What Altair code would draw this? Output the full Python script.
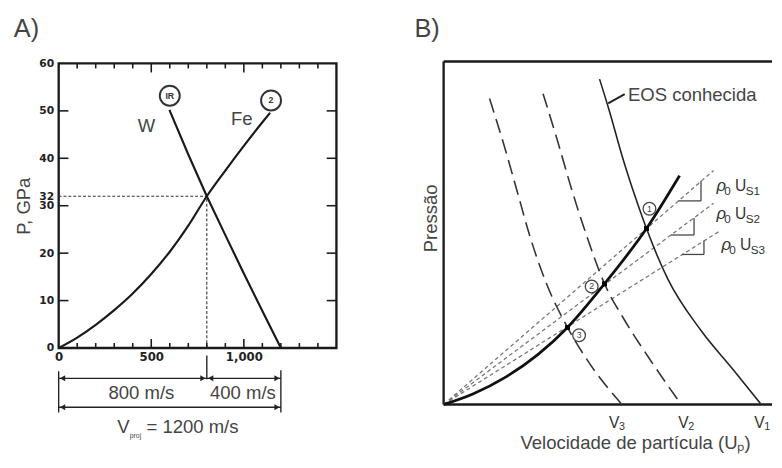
import altair as alt
import pandas as pd

FONT = "Liberation Sans"
INK = "#1a1a1a"
TXT = "#444444"

# ---------------- Panel A data (W projectile on Fe target) ----------------
fe_up = [0, 100, 200, 300, 400, 500, 600, 700, 800, 900, 1000, 1100, 1142]
fe_p = [0, 2.2, 4.9, 8.0, 11.5, 15.6, 20.3, 25.8, 32.0, 37.4, 42.6, 47.6, 49.6]
w_up = [1200, 1100, 1000, 900, 800, 700, 598]
w_p = [0, 7.8, 15.7, 23.8, 32.0, 40.8, 50.2]
a_x_labels = [0, 500, 1000]
a_y_labels = [0, 10, 20, 30, 32, 40, 50, 60]
a_x_minor = [100, 200, 300, 400, 600, 700, 800, 900, 1100, 1200, 1300, 1400]
a_x_major = [500, 1000]
a_y_ticks = [10, 20, 30, 40, 50]
up_match = 800
p_match = 32
v_proj = 1200
a_curve_names = ["W", "Fe"]
a_curve_name_x = [474, 989]
a_curve_name_y = [45.6, 47.1]
a_circle_txt = ["IR", "2"]
a_circle_x = [600, 1147]
a_circle_y = [53.2, 52.2]
a_dim_row1 = -6.4
a_dim_row2 = -12.5
a_dim_txt = ["800 m/s", "400 m/s"]
a_dim_txt_x = [447, 995]
a_dim_txt_y = [-10.7, -10.8]

# ---------------- Panel B data (schematic) ----------------
hug_x = [0, 8.85, 18.9, 28.6, 37.5, 48.7, 61.4, 71.4]
hug_y = [0, 3.1, 8.1, 14.7, 22.6, 35.4, 51.6, 67.1]
eos_x = [47.2, 50.1, 54.3, 58.1, 61.4, 67.8, 77.9, 87.6, 95.9]
eos_y = [95.4, 86.3, 72.0, 60.6, 51.6, 36.9, 21.7, 10.3, 0.3]
v2_x = [30.1, 34.6, 38.9, 43.0, 48.7, 54.6, 61.9, 71.7]
v2_y = [91.1, 76.9, 62.6, 50.3, 35.4, 25.0, 14.0, 0.3]
v3_x = [13.9, 18.6, 22.4, 26.0, 30.9, 37.5, 43.5, 53.7]
v3_y = [89.7, 75.0, 62.0, 49.7, 36.0, 22.6, 13.0, 0.3]
ray_end_x = [81.7, 81.7, 83.8]
ray_end_y = [68.6, 59.0, 51.0]
tri_left_x = [71.0, 68.8, 72.2]
tri_right_x = [77.9, 75.8, 78.8]
tri_base_y = [59.7, 49.7, 44.0]
tri_top_y = [65.5, 54.7, 48.0]
state_x = [61.4, 48.7, 37.5]
state_y = [51.6, 35.4, 22.6]
state_lbl = ["1", "2", "3"]
state_lbl_x = [62.3, 44.8, 41.0]
state_lbl_y = [57.4, 34.6, 20.3]
rho_x = [82.6, 82.6, 84.1]
rho_y = [62.6, 54.3, 45.4]
us_sub = ["S1", "S2", "S3"]
v_lbl_x = [51.6, 72.6, 95.6]
v_lbl_y = [-6.8, -6.8, -6.8]
v_sub = ["3", "2", "1"]
b_top = 100.57
b_right = 99.4


def df(**cols):
    return pd.DataFrame(cols)


# ---------------- Panel A ----------------
XA = alt.X("x:Q", scale=alt.Scale(domain=[0, 1500], nice=False, zero=False),
           axis=alt.Axis(values=a_x_labels, format=",d", ticks=False, tickSize=0,
                         domain=False, grid=False, labelFlush=False,
                         labelFont="DejaVu Sans", labelFontWeight="bold",
                         labelFontSize=12, labelColor="#222", labelPadding=4,
                         title=""))
YA = alt.Y("y:Q", scale=alt.Scale(domain=[0, 60], nice=False, zero=False),
           axis=alt.Axis(values=a_y_labels, format="d", ticks=False, tickSize=0,
                         domain=False, grid=False, labelFlush=False, labelOverlap=False,
                         labelFont="DejaVu Sans", labelFontWeight="bold",
                         labelFontSize=11, labelColor="#222", labelPadding=5,
                         title="P, GPa", titleFont=FONT, titleFontSize=19,
                         titleFontWeight="normal", titleColor=TXT, titlePadding=6))


def a_rule(d, **kw):
    return alt.Chart(d).mark_rule(**kw).encode(x=XA, x2="x2:Q", y=YA, y2="y2:Q")


def a_text(d, **kw):
    return alt.Chart(d).mark_text(font=FONT, **kw).encode(x=XA, y=YA, text="t:N")


fe_line = alt.Chart(df(x=fe_up, y=fe_p, o=list(range(len(fe_up))))).mark_line(
    color=INK, strokeWidth=2.2, interpolate="monotone").encode(x=XA, y=YA, order="o:Q")
w_line = alt.Chart(df(x=w_up, y=w_p, o=list(range(len(w_up))))).mark_line(
    color=INK, strokeWidth=2.2).encode(x=XA, y=YA, order="o:Q")

dashed_a = a_rule(df(x=[0, up_match], x2=[up_match, up_match],
                     y=[p_match, 0], y2=[p_match, p_match]),
                  color="#333", strokeWidth=1.1, strokeDash=[3, 2])

ticks_b = a_rule(df(x=a_x_minor + a_x_major, x2=a_x_minor + a_x_major,
                    y=[0] * (len(a_x_minor) + 2),
                    y2=[1.05] * len(a_x_minor) + [1.9] * 2), color=INK, strokeWidth=1.6)
ticks_t = a_rule(df(x=a_x_minor + a_x_major, x2=a_x_minor + a_x_major,
                    y=[60] * (len(a_x_minor) + 2),
                    y2=[58.95] * len(a_x_minor) + [58.1] * 2), color=INK, strokeWidth=1.6)
ticks_l = a_rule(df(x=[0] * 5, x2=[52.6] * 5, y=a_y_ticks, y2=a_y_ticks),
                 color=INK, strokeWidth=1.6)
ticks_r = a_rule(df(x=[1447.4] * 5, x2=[1500] * 5, y=a_y_ticks, y2=a_y_ticks),
                 color=INK, strokeWidth=1.6)

dims = a_rule(df(x=[up_match, 0, v_proj, 0, up_match, 0],
                 x2=[up_match, 0, v_proj, up_match, v_proj, v_proj],
                 y=[-1.6, -4.9, -4.7, a_dim_row1, a_dim_row1, a_dim_row2],
                 y2=[-6.6, -13.6, -13.6, a_dim_row1, a_dim_row1, a_dim_row2]),
              color="#222", strokeWidth=1.4)
heads_l = alt.Chart(df(x=[0, up_match, 0], y=[a_dim_row1, a_dim_row1, a_dim_row2])).mark_point(
    shape="triangle-left", filled=True, size=38, color="#222", opacity=1, xOffset=4
).encode(x=XA, y=YA)
heads_r = alt.Chart(df(x=[up_match, v_proj, v_proj], y=[a_dim_row1, a_dim_row1, a_dim_row2])).mark_point(
    shape="triangle-right", filled=True, size=38, color="#222", opacity=1, xOffset=-4
).encode(x=XA, y=YA)

curve_names = a_text(df(x=a_curve_name_x, y=a_curve_name_y, t=a_curve_names),
                     fontSize=19, color=TXT, align="center", baseline="alphabetic")
circ_a = alt.Chart(df(x=a_circle_x, y=a_circle_y)).mark_point(
    shape="circle", size=420, filled=False, color="#333", strokeWidth=2, opacity=1
).encode(x=XA, y=YA)
circ_a_txt = a_text(df(x=a_circle_x, y=a_circle_y, t=a_circle_txt),
                    fontSize=9, fontWeight="bold", color="#333", align="center",
                    baseline="middle")
dim_txt = a_text(df(x=a_dim_txt_x, y=a_dim_txt_y, t=a_dim_txt),
                 fontSize=19, color=TXT, align="center", baseline="alphabetic")
vproj_v = a_text(df(x=[316], y=[-17.9], t=["V"]), fontSize=19, color=TXT,
                 align="left", baseline="alphabetic")
vproj_sub = a_text(df(x=[384], y=[-18.9], t=["proj"]), fontSize=7, color=TXT,
                   align="left", baseline="alphabetic")
vproj_rest = a_text(df(x=[474], y=[-17.9], t=["= 1200 m/s"]), fontSize=19, color=TXT,
                    align="left", baseline="alphabetic")
label_a = a_text(df(x=[-242], y=[65.5], t=["A)"]), fontSize=26, color=TXT,
                 align="left", baseline="alphabetic")

panel_a = alt.layer(
    dashed_a, ticks_b, ticks_t, ticks_l, ticks_r, fe_line, w_line, dims, heads_l, heads_r,
    curve_names, circ_a, circ_a_txt, dim_txt, vproj_v, vproj_sub, vproj_rest, label_a
).properties(width=285, height=292,
             view=alt.ViewBackground(stroke=INK, strokeWidth=2.4))

# ---------------- Panel B ----------------
XB = alt.X("x:Q", scale=alt.Scale(domain=[0, 100], nice=False, zero=False), axis=None)
YB = alt.Y("y:Q", scale=alt.Scale(domain=[0, 100], nice=False, zero=False), axis=None)


def b_line(xs, ys, **kw):
    return alt.Chart(df(x=xs, y=ys, o=list(range(len(xs))))).mark_line(
        interpolate="monotone", **kw).encode(x=XB, y=YB, order="o:Q")


def b_rule(d, **kw):
    return alt.Chart(d).mark_rule(**kw).encode(x=XB, x2="x2:Q", y=YB, y2="y2:Q")


def b_text(d, **kw):
    return alt.Chart(d).mark_text(font=FONT, **kw).encode(x=XB, y=YB, text="t:N")


frame_b = b_rule(df(x=[0, 0, 0], x2=[0, b_right, b_right], y=[0, b_top, 0],
                    y2=[b_top, b_top, 0]), color=INK, strokeWidth=2.4)
rays = b_rule(df(x=[0, 0, 0], x2=ray_end_x, y=[0, 0, 0], y2=ray_end_y),
              color="#777", strokeWidth=1.3, strokeDash=[4, 3])
tri_h = b_rule(df(x=tri_left_x, x2=tri_right_x, y=tri_base_y, y2=tri_base_y),
               color="#444", strokeWidth=1.3)
tri_v = b_rule(df(x=tri_right_x, x2=tri_right_x, y=tri_base_y, y2=tri_top_y),
               color="#444", strokeWidth=1.3)
eos = b_line(eos_x, eos_y, color="#222", strokeWidth=1.6)
v2c = b_line(v2_x, v2_y, color="#333", strokeWidth=1.6, strokeDash=[15, 7])
v3c = b_line(v3_x, v3_y, color="#333", strokeWidth=1.6, strokeDash=[15, 7])
hug = b_line(hug_x, hug_y, color="#111", strokeWidth=2.8)
dots = alt.Chart(df(x=state_x, y=state_y)).mark_point(
    shape="square", filled=True, size=26, color="#000", opacity=1).encode(x=XB, y=YB)
circ_b = alt.Chart(df(x=state_lbl_x, y=state_lbl_y)).mark_point(
    shape="circle", size=170, filled=False, color="#444", strokeWidth=1.3, opacity=1
).encode(x=XB, y=YB)
circ_b_txt = b_text(df(x=state_lbl_x, y=state_lbl_y, t=state_lbl), fontSize=9,
                    color="#444", align="center", baseline="middle")
eos_lbl = b_text(df(x=[55.8], y=[89.1], t=["EOS conhecida"]), fontSize=19, color=TXT,
                 align="left", baseline="alphabetic")
eos_lead = b_rule(df(x=[49.8], x2=[54.8], y=[88.3], y2=[91.0]), color="#222", strokeWidth=2)
rho = b_text(df(x=rho_x, y=rho_y, t=["ρ"] * 3), fontSize=17, fontStyle="italic",
             color="#333", align="left", baseline="alphabetic")
rho_sub = b_text(df(x=rho_x, y=rho_y, t=["0"] * 3), fontSize=12, color="#333",
                 align="left", baseline="alphabetic", dx=8, dy=4)
us_u = b_text(df(x=rho_x, y=rho_y, t=["U"] * 3), fontSize=16, color="#333",
              align="left", baseline="alphabetic", dx=19)
us_s = b_text(df(x=rho_x, y=rho_y, t=us_sub), fontSize=12, color="#333",
              align="left", baseline="alphabetic", dx=30, dy=4)
v_main = b_text(df(x=v_lbl_x, y=v_lbl_y, t=["V"] * 3), fontSize=16, color="#333",
                align="center", baseline="alphabetic")
v_s = b_text(df(x=v_lbl_x, y=v_lbl_y, t=v_sub), fontSize=11, color="#333",
             align="left", baseline="alphabetic", dx=5, dy=2)
x_title_b = b_text(df(x=[58.1], y=[-13.1], t=["Velocidade de partícula (Uₚ)"]),
                   fontSize=19, color=TXT, align="center", baseline="alphabetic")
y_title_b = b_text(df(x=[-3.8], y=[54.6], t=["Pressão"]), fontSize=19, color=TXT,
                   align="center", baseline="middle", angle=270)
label_b = b_text(df(x=[-8.85], y=[107.7], t=["B)"]), fontSize=26, color=TXT,
                 align="left", baseline="alphabetic")

panel_b = alt.layer(
    frame_b, rays, tri_h, tri_v, eos, v2c, v3c, hug, dots, circ_b, circ_b_txt,
    eos_lbl, eos_lead, rho, rho_sub, us_u, us_s, v_main, v_s, x_title_b, y_title_b, label_b
).properties(width=339, height=350,
             view=alt.ViewBackground(strokeOpacity=0))

chart = alt.hconcat(panel_a, panel_b, spacing=110, bounds="flush").properties(
    padding={"left": 4, "top": 2, "right": 0, "bottom": 0},
    background="white",
)

chart.save("out.html", embed_options={"renderer": "svg", "actions": False})
